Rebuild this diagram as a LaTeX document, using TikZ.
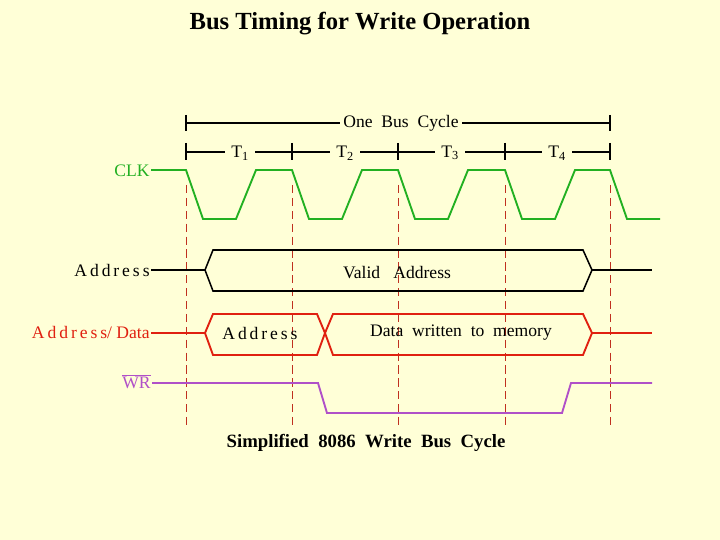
\documentclass[tikz,border=0pt]{standalone}
\usepackage{fontspec}
\setmainfont{Liberation Serif}
\definecolor{bg}{HTML}{FFFFD7}
\definecolor{clkgreen}{HTML}{22B022}
\definecolor{adred}{HTML}{E02010}
\definecolor{wrpurple}{HTML}{B050C8}
\definecolor{gridred}{HTML}{C03020}
\tikzset{sig/.style={line width=1.6pt},
         lbl/.style={font=\fontsize{15}{17}\selectfont, inner sep=1pt}}
\begin{document}
\begin{tikzpicture}[x=0.03cm,y=-0.03cm]
\fill [bg] (0,0) rectangle (720,540);

\node (title) at (360,24) {\fontsize{21}{24}\selectfont\bfseries Bus Timing for Write Operation};

% clock period markers
\foreach \x in {186,292,398,505,610}
  \draw [gridred, dash pattern=on 7pt off 4pt, thin] (\x,185) -- (\x,425);

\draw [line width=1.5pt] (186,115) -- (186,131);
\draw [line width=1.5pt] (610,115) -- (610,131);
\draw [line width=1.5pt] (186,123) -- (610,123);
\node [lbl, fill=bg, inner sep=3pt] (cycle) at (401,123) {One\ \ Bus\ \ Cycle};

\foreach \x in {186,292,398,505,610}
  \draw [line width=2pt] (\x,143) -- (\x,160);
\draw [line width=2.5pt] (186,152) -- (610,152);
\foreach \x/\n in {240/1,345/2,450/3,557/4}
  \node [lbl, fill=bg, inner sep=5pt] at (\x,153) {T\textsubscript{\n}};

% CLK
\node [lbl, clkgreen, anchor=east] (clk) at (151,171) {CLK};
\draw [sig, clkgreen] (151,170) -- (186,170)
  \foreach \x in {186,292,398,505} { -- (\x,170) -- (\x+17,219) -- (\x+50,219) -- (\x+70,170) }
  -- (610,170) -- (627,219) -- (660,219);

% Address
\node [lbl, anchor=east] (addr) at (151,270) {A\,d\,d\,r\,e\,s\,s};
\draw [sig, black, line width=1.3pt] (205,270) -- (213,250) -- (583,250) -- (592,270) -- (583,291) -- (213,291) -- cycle;
\draw [sig, black, line width=1.3pt] (151,270) -- (205,270) (592,270) -- (652,270);
\node [lbl] (valid) at (397,273) {Valid\ \ \ Address};

% Address/Data
\node [lbl, adred, anchor=east] (ad) at (151,332) {A\,d\,d\,r\,e\,s\,s/ Data};
\draw [sig, adred] (205,333) -- (213,314) -- (317,314) -- (325,333) -- (317,355) -- (213,355) -- cycle;
\draw [sig, adred] (325,333) -- (333,314) -- (583,314) -- (592,333) -- (583,355) -- (333,355) -- cycle;
\draw [sig, adred] (151,333) -- (205,333) (592,333) -- (652,333);
\node [lbl] (adtxt) at (260,333) {A\,d\,d\,r\,e\,s\,s};
\node [lbl] (data) at (461,333) {Data\ \ written\ \ to\ \ memory};

% WR
\node [lbl, wrpurple, anchor=east] (wr) at (152,382) {$\overline{\mbox{WR}}$};
\draw [sig, wrpurple] (152,383) -- (318,383) -- (327,413) -- (562,413) -- (571,383) -- (652,383);

\node (caption) at (366,443) {\fontsize{16}{18}\selectfont\bfseries Simplified\ \ 8086\ \ Write\ \ Bus\ \ Cycle};
\end{tikzpicture}
\end{document}
